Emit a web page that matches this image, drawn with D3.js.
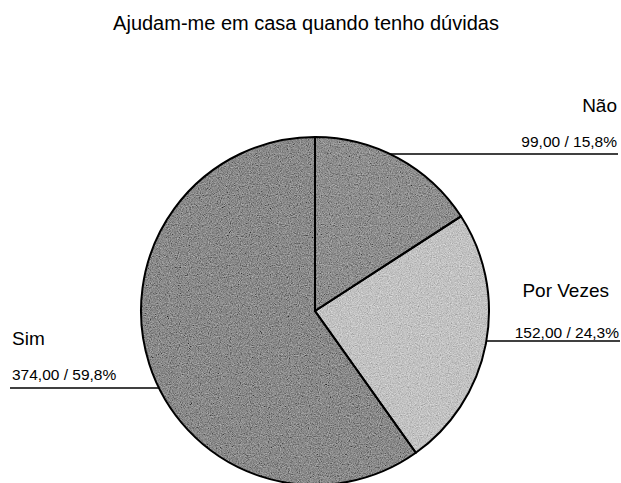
<!DOCTYPE html>
<html>
<head>
<meta charset="utf-8">
<script src="https://cdn.jsdelivr.net/npm/d3@7"></script>
<style>
  body { margin: 0; background: #fff; }
  svg { display: block; font-family: "Liberation Sans", Arial, sans-serif; }
</style>
</head>
<body>
<svg id="chart" width="621" height="483"></svg>
<script>
// data
var title = "Ajudam-me em casa quando tenho dúvidas";
var categories = ["Não", "Por Vezes", "Sim"];
var counts = [99, 152, 374];
var colors = ["#8e8e8e", "#c2c2c2", "#8a8a8a"];

var width = 621, height = 483;
var cx = 315, cy = 311, radius = 174;

// label layout: anchor side, x of text, baselines, leader line y and outer end
var labelPos = [
    { anchor: "end", nameX: 617, valX: 617, nameY: 112, valY: 147, lineY: 154, lineEnd: 618 },
    { anchor: "end", nameX: 609, valX: 619, nameY: 297, valY: 338, lineY: 341, lineEnd: 620 },
    { anchor: "start", nameX: 12, valX: 12, nameY: 345, valY: 380, lineY: 388, lineEnd: 10 }
];

var pt = d3.formatLocale({ decimal: ",", thousands: ".", grouping: [3], currency: ["", ""] });
var fmtVal = pt.format(".2f");
var fmtPct = pt.format(".1f");

var svg = d3.select("#chart");

var defs = svg.append("defs");
var f = defs.append("filter").attr("id", "grain")
    .attr("x", "0%").attr("y", "0%").attr("width", "100%").attr("height", "100%");
f.append("feTurbulence").attr("type", "fractalNoise").attr("baseFrequency", "0.9")
    .attr("numOctaves", 2).attr("seed", 4).attr("result", "noise");
f.append("feColorMatrix").attr("in", "noise").attr("type", "matrix")
    .attr("values", "0.33 0.33 0.33 0 0  0.33 0.33 0.33 0 0  0.33 0.33 0.33 0 0  0 0 0 0 1")
    .attr("result", "gray");
f.append("feComposite").attr("in", "SourceGraphic").attr("in2", "gray")
    .attr("operator", "arithmetic").attr("k1", 0).attr("k2", 1).attr("k3", 0.9).attr("k4", -0.45)
    .attr("result", "mix");
f.append("feComposite").attr("in", "mix").attr("in2", "SourceGraphic").attr("operator", "in");

svg.append("text")
    .attr("x", 306).attr("y", 30)
    .attr("text-anchor", "middle")
    .style("font-size", "20px")
    .text(title);

var total = d3.sum(counts);
var data = categories.map(function (c, i) { return { name: c, value: counts[i], i: i }; });

var pie = d3.pie().sort(null).value(function (d) { return d.value; });
var arc = d3.arc().innerRadius(0).outerRadius(radius);
var arcs = pie(data);

var g = svg.append("g").attr("transform", "translate(" + cx + "," + cy + ")");

g.selectAll("path.fill")
    .data(arcs)
    .enter().append("path")
    .attr("class", "fill")
    .attr("d", arc)
    .attr("fill", function (d) { return colors[d.data.i]; })
    .attr("filter", "url(#grain)");

g.selectAll("path.edge")
    .data(arcs)
    .enter().append("path")
    .attr("class", "edge")
    .attr("d", arc)
    .attr("fill", "none")
    .attr("stroke", "#000")
    .attr("stroke-width", 2)
    .attr("stroke-linejoin", "round");

// labels with leader lines
data.forEach(function (d, i) {
    var p = labelPos[i];
    var dy = p.lineY - cy;
    var dx = Math.sqrt(radius * radius - dy * dy);
    var edgeX = p.anchor === "end" ? cx + dx : cx - dx;

    svg.append("line")
        .attr("x1", edgeX).attr("y1", p.lineY)
        .attr("x2", p.lineEnd).attr("y2", p.lineY)
        .attr("stroke", "#000").attr("stroke-width", 1.5);

    svg.append("text")
        .attr("x", p.nameX).attr("y", p.nameY)
        .attr("text-anchor", p.anchor)
        .style("font-size", "19px")
        .text(d.name);

    svg.append("text")
        .attr("x", p.valX).attr("y", p.valY)
        .attr("text-anchor", p.anchor)
        .style("font-size", "15.5px")
        .text(fmtVal(d.value) + " / " + fmtPct(d.value / total * 100) + "%");
});
</script>
</body>
</html>
